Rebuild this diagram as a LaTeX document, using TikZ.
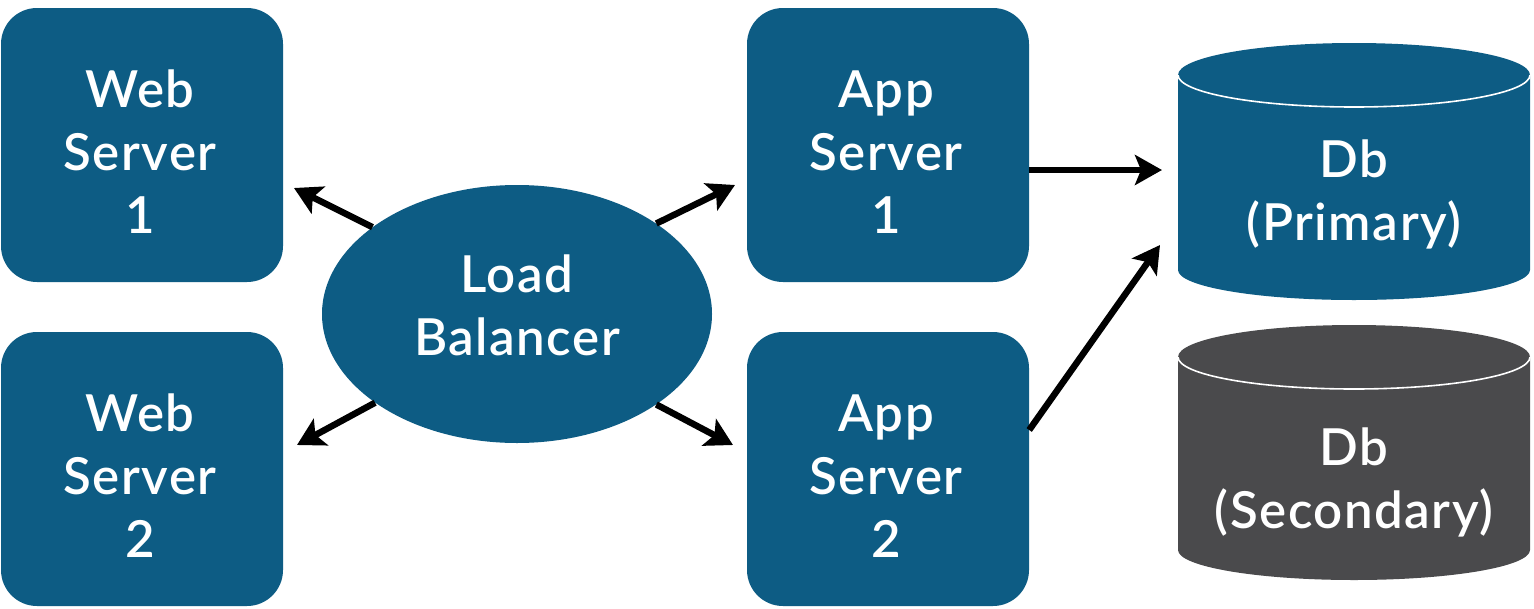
\documentclass[tikz,border=0pt]{standalone}
\usepackage{fontspec}
\setmainfont{Lato Semibold}[LetterSpace=3]
\usetikzlibrary{arrows.meta,shapes.geometric}
\definecolor{boxblue}{HTML}{0D5C84}
\definecolor{dbgray}{HTML}{4A4A4C}
\begin{document}
\begin{tikzpicture}[x=1pt,y=-1pt,
  box/.style={fill=boxblue, rounded corners=36pt, minimum width=282pt, minimum height=274pt, inner sep=0pt},
  lbl/.style={text=white, align=center, inner sep=0pt, font=\fontsize{51}{63}\selectfont},
  arr/.style={draw=black, line width=6.5pt, -{Stealth[length=27pt,width=30pt,inset=6pt]}}]
\useasboundingbox (0,0) rectangle (1534,608);
\fill[white] (0,0) rectangle (1534,608);
% boxes
\node[box] (w1) at (142,145) {};
\node[box] (w2) at (142,469) {};
\node[box] (a1) at (888,145) {};
\node[box] (a2) at (888,469) {};
\node[lbl] (w1t) at (140,152) {Web\\Server\\1};
\node[lbl] (w2t) at (140,476) {Web\\Server\\2};
\node[lbl] (a1t) at (886,152) {App\\Server\\1};
\node[lbl] (a2t) at (886,476) {App\\Server\\2};
% load balancer
\node[ellipse, fill=boxblue, minimum width=390pt, minimum height=258pt, inner sep=0pt] (lb) at (517,314) {};
\node[lbl] (lbt) at (517,305) {Load\\Balancer};
% databases
\fill[boxblue] (1178,75) -- (1178,270) arc[start angle=180, end angle=360, x radius=176, y radius=-30] -- (1530,75) arc[start angle=0, end angle=180, x radius=176, y radius=-32] -- cycle;
\draw[white, line width=1.6pt] (1178,75) arc[start angle=180, end angle=360, x radius=176, y radius=-32];
\fill[dbgray] (1178,357) -- (1178,550) arc[start angle=180, end angle=360, x radius=176, y radius=-30] -- (1530,357) arc[start angle=0, end angle=180, x radius=176, y radius=-32] -- cycle;
\draw[white, line width=1.6pt] (1178,357) arc[start angle=180, end angle=360, x radius=176, y radius=-32];
\node[lbl] (dbp) at (1354,194) {Db\\(Primary)};
\node[lbl] (dbs) at (1354,482) {Db\\(Secondary)};
% arrow tips
\coordinate (tw1) at (294,188);
\coordinate (tw2) at (297,445);
\coordinate (ta1) at (735,185);
\coordinate (ta2) at (733,445);
\coordinate (td1) at (1162,170);
\coordinate (td2) at (1160,245);
\draw[arr] (lb.149) -- (tw1);
\draw[arr] (lb.212) -- (tw2);
\draw[arr] (lb.33) -- (ta1);
\draw[arr] (lb.327) -- (ta2);
\draw[arr] ([yshift=-25pt]a1.east) -- (td1);
\draw[arr] ([yshift=39pt]a2.east) -- (td2);
\end{tikzpicture}
\end{document}
